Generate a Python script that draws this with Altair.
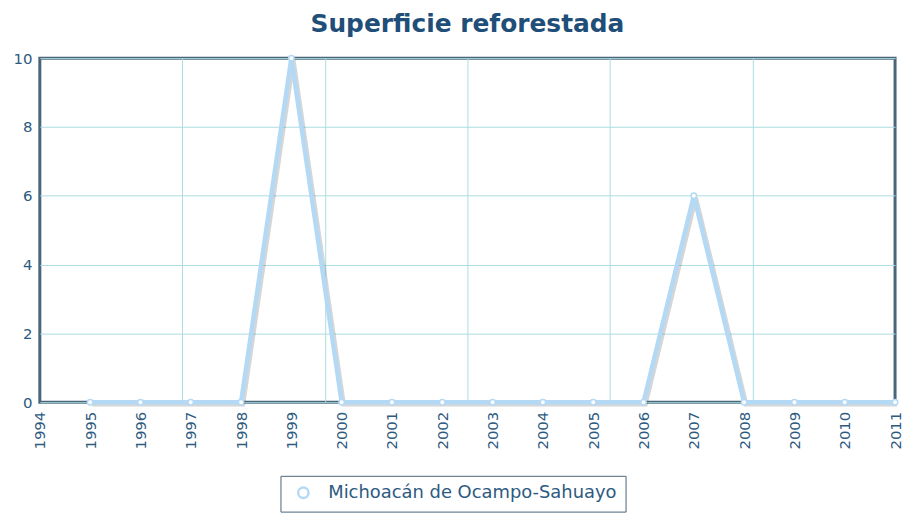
import altair as alt
import pandas as pd

years = list(range(1995, 2012))
values = [0, 0, 0, 0, 10, 0, 0, 0, 0, 0, 0, 0, 6, 0, 0, 0, 0]
series_name = "Michoacán de Ocampo-Sahuayo"
tick_years = list(range(1994, 2012))
grid_years = [1994 + 17 * k / 6 for k in range(1, 6)]
y_ticks = [0, 2, 4, 6, 8, 10]

df = pd.DataFrame({"year": years, "value": values, "series": series_name})

label_color = "#2d5a80"
frame_color = "#4a6478"
grid_color = "#a9dde2"
line_color = "#b3d9f5"

x_scale = alt.Scale(domain=[1994, 2011], nice=False, zero=False)
y_scale = alt.Scale(domain=[0, 10], nice=False)

x_axis = alt.Axis(values=tick_years, format="d", labelAngle=270, grid=False,
                  labelColor=label_color, labelFontSize=15, labelFont="DejaVu Sans",
                  domain=False, ticks=False, labelPadding=9, title=None,
                  labelAlign="right", labelBaseline="middle")
y_axis = alt.Axis(values=y_ticks, grid=True, gridColor=grid_color, gridWidth=1,
                  labelColor=label_color, labelFontSize=15, labelFont="DejaVu Sans",
                  domain=False, ticks=False, labelPadding=8, title=None)

grid_layer = alt.Chart(df).mark_line(opacity=0).encode(
    x=alt.X("year:Q", scale=x_scale,
            axis=alt.Axis(values=grid_years, orient="top", labels=False, ticks=False,
                          domain=False, grid=True, gridColor=grid_color, gridWidth=1,
                          title=None)),
    y=alt.Y("value:Q", scale=y_scale, axis=y_axis),
)

shadow = alt.Chart(df).mark_line(color="#444444", strokeWidth=4.5, opacity=0.22,
                                 xOffset=2, yOffset=2).encode(
    x=alt.X("year:Q", scale=x_scale, axis=None),
    y=alt.Y("value:Q", scale=y_scale, axis=y_axis),
)

line = alt.Chart(df).mark_line(strokeWidth=4.5, color=line_color).encode(
    x=alt.X("year:Q", scale=x_scale, axis=x_axis),
    y=alt.Y("value:Q", scale=y_scale, axis=y_axis),
)

points = alt.Chart(df).mark_point(filled=False, fill="white", fillOpacity=1,
                                  strokeWidth=1.5, size=30, opacity=1).encode(
    x=alt.X("year:Q", scale=x_scale, axis=None),
    y=alt.Y("value:Q", scale=y_scale, axis=y_axis),
    color=alt.Color("series:N", scale=alt.Scale(range=[line_color]),
                    legend=alt.Legend(title=None, orient="none", legendX=242, legendY=420,
                                      labelFont="DejaVu Sans", labelFontSize=18,
                                      labelColor=label_color, labelLimit=0,
                                      symbolType="circle",
                                      symbolStrokeColor=line_color, symbolFillColor="white",
                                      symbolStrokeWidth=2.5, symbolSize=110,
                                      strokeColor=frame_color, fillColor="white",
                                      padding=8, symbolOffset=6, labelOffset=16)),
)

chart = alt.layer(grid_layer, shadow, line, points).resolve_axis(x="independent").properties(
    width=860, height=346,
    autosize=alt.AutoSizeParams(type="none"),
    padding={"left": 32, "top": 49, "right": 10, "bottom": 112},
    title=alt.TitleParams("Superficie reforestada", fontSize=25, font="DejaVu Sans",
                          fontWeight="bold", color="#1f4e79", anchor="middle", offset=12),
).configure_view(stroke=frame_color, strokeWidth=3)

chart.save("out.html", embed_options={"renderer": "svg", "actions": False})
